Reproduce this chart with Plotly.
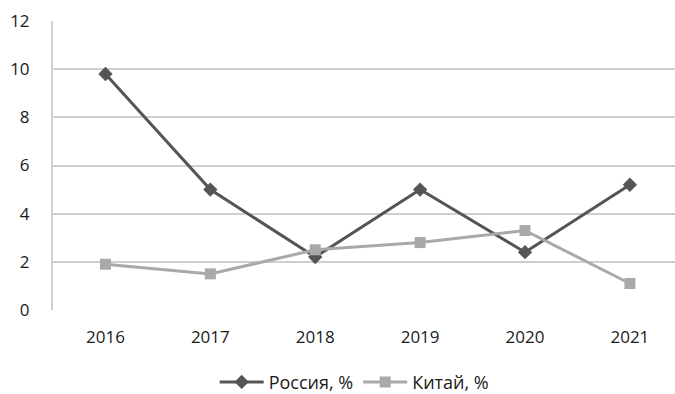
import plotly.graph_objects as go

years = ["2016", "2017", "2018", "2019", "2020", "2021"]
russia = [9.8, 5.0, 2.2, 5.0, 2.4, 5.2]
china = [1.9, 1.5, 2.5, 2.8, 3.3, 1.1]
y_ticks = [0, 2, 4, 6, 8, 10, 12]

font_family = "'Open Sans', 'Noto Sans', 'DejaVu Sans', sans-serif"

fig = go.Figure()
fig.add_trace(go.Scatter(
    x=years, y=russia, name="Россия, %", mode="lines+markers",
    line=dict(color="#555555", width=3),
    marker=dict(symbol="diamond", size=11, color="#555555"),
))
fig.add_trace(go.Scatter(
    x=years, y=china, name="Китай, %", mode="lines+markers",
    line=dict(color="#a9a9a9", width=3),
    marker=dict(symbol="square", size=11, color="#a9a9a9"),
))

fig.update_layout(
    width=675, height=394,
    margin=dict(l=53, r=0, t=21, b=84),
    paper_bgcolor="white", plot_bgcolor="white",
    font=dict(family=font_family, size=17, color="#1a1a1a"),
    showlegend=True,
    legend=dict(orientation="h", x=0.485, xanchor="center",
                yref="container", y=0.03, yanchor="middle",
                font=dict(size=18), itemwidth=44),
    xaxis=dict(
        type="category", range=[-0.5, 5.43],
        showgrid=False, showline=False, zeroline=False,
        ticks="outside", ticklen=12, tickcolor="rgba(0,0,0,0)",
    ),
    yaxis=dict(
        range=[0, 12], tickvals=y_ticks,
        showgrid=True, gridcolor="#cfcfcf", gridwidth=2,
        showline=True, linecolor="#cfcfcf", linewidth=2,
        zeroline=False, ticks="outside", ticklen=18,
        tickcolor="rgba(0,0,0,0)",
    ),
)

fig.write_html("out.html")
